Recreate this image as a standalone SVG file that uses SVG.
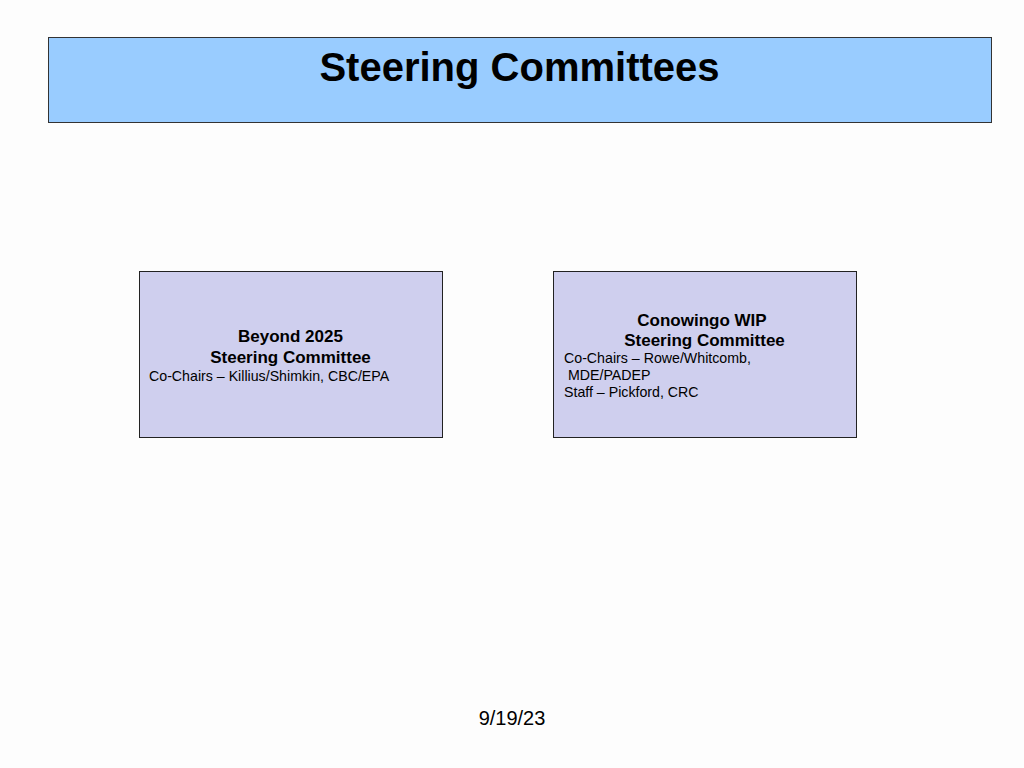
<svg xmlns="http://www.w3.org/2000/svg" width="1024" height="768" viewBox="0 0 1024 768">
<style>
.box{fill:#CFCFEE;stroke:#222;stroke-width:1}
.h{font-family:"Liberation Sans",Arial,sans-serif;font-weight:bold;font-size:17px;fill:#000;text-anchor:middle}
.t{font-family:"Liberation Sans",Arial,sans-serif;font-size:14.2px;fill:#000}
</style>
<rect width="1024" height="768" fill="#FDFDFD"/>
<g id="title">
<rect x="48.5" y="37.5" width="943" height="85" fill="#99CCFF" stroke="#333" stroke-width="1"/>
<text x="519.5" y="81" font-family="'Liberation Sans',Arial,sans-serif" font-weight="bold" font-size="40" text-anchor="middle" fill="#000">Steering Committees</text>
</g>
<g id="beyond2025">
<rect class="box" x="139.5" y="271.5" width="303" height="166"/>
<text class="h" x="290.5" y="342">Beyond 2025</text>
<text class="h" x="290.5" y="363">Steering Committee</text>
<text class="t" x="149" y="381">Co-Chairs – Killius/Shimkin, CBC/EPA</text>
</g>
<g id="conowingo">
<rect class="box" x="553.5" y="271.5" width="303" height="166"/>
<text class="h" x="702" y="326">Conowingo WIP</text>
<text class="h" x="704.5" y="346">Steering Committee</text>
<text class="t" x="564" y="363">Co-Chairs – Rowe/Whitcomb,</text>
<text class="t" x="564" y="380" xml:space="preserve"> MDE/PADEP</text>
<text class="t" x="564" y="397">Staff – Pickford, CRC</text>
</g>
<g id="connectors"></g>
<text x="512" y="725" font-family="'Liberation Sans',Arial,sans-serif" font-size="20" text-anchor="middle" fill="#000">9/19/23</text>
</svg>
